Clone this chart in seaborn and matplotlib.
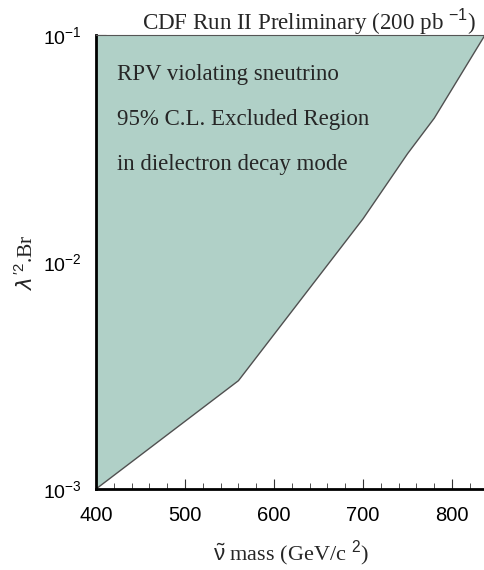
import matplotlib
matplotlib.use("Agg")
import matplotlib.pyplot as plt
import seaborn as sns
import numpy as np
import pandas as pd
from matplotlib.ticker import MultipleLocator, LogLocator

# Data: exclusion boundary (sneutrino mass vs lambda'^2 * Br)
mass = [400, 560, 700, 750, 780, 837]
limit = [1.0e-3, 3.0e-3, 1.55e-2, 3.0e-2, 4.3e-2, 1.0e-1]
x_ticks = [400, 500, 600, 700, 800]
annot_lines = ["RPV violating sneutrino",
               "95% C.L. Excluded Region",
               "in dielectron decay mode"]
title_text = "CDF Run II Preliminary (200 pb $^{-1}$)"

df = pd.DataFrame({"mass": mass, "limit": limit})

sns.set_style("ticks")
plt.rcParams["font.family"] = ["Liberation Sans", "DejaVu Sans"]
plt.rcParams["mathtext.fontset"] = "custom"
plt.rcParams["mathtext.rm"] = "Liberation Sans"

fig = plt.figure(figsize=(4.85, 5.70), dpi=100)
ax = fig.add_axes([96/485, (570-489)/570, (485-96)/485, (489-35)/570])

fill_col = "#b0d0c7"
ax.fill_between(df["mass"], df["limit"], 1.0, color=fill_col, lw=0, zorder=1)
sns.lineplot(data=df, x="mass", y="limit", ax=ax, color="#505050", lw=1.0, zorder=2)

ax.set_yscale("log")
ax.set_xlim(400, 837)
ax.set_ylim(1e-3, 1e-1)

ax.set_xticks(x_ticks)
ax.xaxis.set_minor_locator(MultipleLocator(20))
ax.yaxis.set_major_locator(LogLocator(base=10, numticks=10))
ax.yaxis.set_minor_locator(LogLocator(base=10, subs=np.arange(2, 10), numticks=10))

ax.tick_params(which="both", direction="in", top=True, right=False, colors="#333333",
               labelcolor="black")
ax.tick_params(which="major", length=7, width=0.8)
ax.tick_params(which="minor", length=4, width=0.6)
ax.tick_params(axis="x", pad=12, labelsize=14.5)
ax.tick_params(axis="y", pad=10, labelsize=14)

for s in ["left", "bottom"]:
    ax.spines[s].set_linewidth(2.0)
    ax.spines[s].set_color("black")
ax.spines["top"].set_linewidth(0.8)
ax.spines["top"].set_color("#555555")
ax.spines["right"].set_visible(False)

serif = ["Liberation Serif", "DejaVu Serif"]
ax.set_xlabel(r"$\tilde{\mathrm{\nu}}$ mass (GeV/c $^{2}$)", family=serif, fontsize=16, labelpad=10)
ax.set_ylabel(r"$\lambda^{\prime 2}$.Br", family=serif, fontsize=15.5)
ax.yaxis.set_label_coords(-0.15, 0.5)

fig.text(142/485, (570-30)/570, title_text, family=serif, fontsize=16.6, ha="left", va="baseline")

for i, t in enumerate(annot_lines):
    ax.text(0.055, 0.913 - i * 0.099, t, transform=ax.transAxes, family=serif,
            fontsize=16.5, ha="left", va="center")

fig.savefig("out.png", dpi=100)
